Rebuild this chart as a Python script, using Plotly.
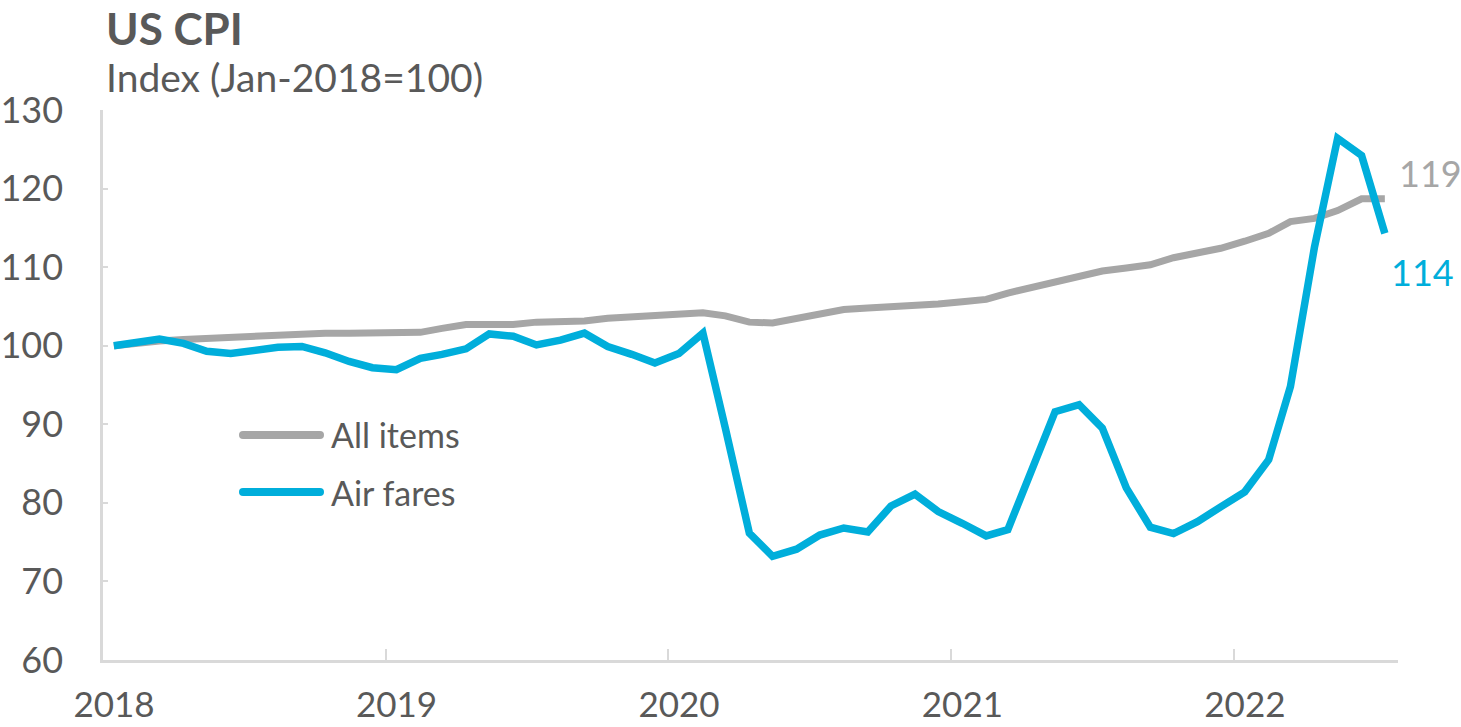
import plotly.graph_objects as go

# Monthly observations, Jan 2018 - Jul 2022 (plotted mid-month)
years = [2018, 2019, 2020, 2021, 2022]
n_months = 55
months = [f"{2018 + i // 12}-{i % 12 + 1:02d}-15" for i in range(n_months)]

all_items = [
    100.0, 100.4, 100.6, 100.8, 100.95, 101.1, 101.2, 101.3, 101.45, 101.6, 101.6, 101.6,
    101.6, 101.7, 102.2, 102.7, 102.7, 102.7, 103.0, 103.05, 103.15, 103.5, 103.65, 103.85,
    104.0, 104.2, 103.8, 103.0, 102.9, 103.5, 104.1, 104.6, 104.8, 104.9, 105.1, 105.3,
    105.6, 105.9, 106.7, 107.4, 108.1, 109.0, 109.5, 109.9, 110.3, 111.2, 111.8, 112.4,
    113.3, 114.3, 115.8, 116.2, 117.2, 118.7, 118.7,
]
air_fares = [
    100.0, 100.4, 100.85, 100.3, 99.3, 99.0, 99.4, 99.8, 99.9, 99.1, 98.0, 97.2,
    96.95, 98.4, 98.9, 99.6, 101.5, 101.2, 100.1, 100.7, 101.6, 99.9, 98.9, 97.8,
    99.0, 101.6, 89.5, 76.15, 73.2, 74.1, 75.9, 76.8, 76.3, 79.6, 81.1, 78.9,
    77.4, 75.8, 76.6, 84.2, 91.6, 92.5, 89.5, 81.9, 76.9, 76.1, 77.6, 79.5,
    81.4, 85.5, 94.8, 112.5, 126.4, 124.2, 114.3,
]

GRAY = "#A6A6A6"
BLUE = "#00AEDB"
TEXT = "#595959"
AXIS = "#D9D9D9"
FONT = "Lato, 'Open Sans', sans-serif"

# plot-area geometry in pixels
L, R, T, B = 103, 1398, 110, 660
W, H = R - L, B - T


def px_x(x):
    return (x - L) / W


def px_y(y):
    return (B - y) / H


fig = go.Figure()
fig.add_trace(go.Scatter(x=months, y=all_items, mode="lines", name="All items",
                         line=dict(color=GRAY, width=7), showlegend=False))
fig.add_trace(go.Scatter(x=months, y=air_fares, mode="lines", name="Air fares",
                         line=dict(color=BLUE, width=7.5), showlegend=False))

# End-of-series value labels
fig.add_annotation(x=months[-1], y=all_items[-1], text=f"{round(all_items[-1])}",
                   showarrow=False, xanchor="left", yanchor="middle",
                   xshift=12, yshift=26, font=dict(size=36, color=GRAY, family=FONT))
fig.add_annotation(x=months[-1], y=air_fares[-1], text=f"{round(air_fares[-1])}",
                   showarrow=False, xanchor="left", yanchor="middle",
                   xshift=4, yshift=-39, font=dict(size=36, color=BLUE, family=FONT))

# Title and subtitle
fig.add_annotation(xref="paper", yref="paper", x=px_x(104), y=px_y(28),
                   xanchor="left", yanchor="middle", text="<b>US CPI</b>", showarrow=False,
                   font=dict(size=44, color=TEXT, family=FONT))
fig.add_annotation(xref="paper", yref="paper", x=px_x(104), y=px_y(77),
                   xanchor="left", yanchor="middle", text="Index (Jan-2018=100)",
                   showarrow=False, font=dict(size=39, color=TEXT, family=FONT))

# Hand-drawn legend inside the plot area
legend_items = [("All items", GRAY, 435), ("Air fares", BLUE, 492)]
for label, color, ypx in legend_items:
    fig.add_shape(type="line", xref="paper", yref="paper",
                  x0=px_x(243), x1=px_x(320), y0=px_y(ypx), y1=px_y(ypx),
                  line=dict(color=color, width=8))
    for cx in (243, 320):
        fig.add_shape(type="circle", xref="paper", yref="paper",
                      x0=px_x(cx - 4), x1=px_x(cx + 4),
                      y0=px_y(ypx + 4), y1=px_y(ypx - 4),
                      line=dict(width=0), fillcolor=color)
    fig.add_annotation(xref="paper", yref="paper", x=px_x(329), y=px_y(ypx),
                       xanchor="left", yanchor="middle", text=label, showarrow=False,
                       font=dict(size=34, color=TEXT, family=FONT))

fig.update_layout(
    width=1461, height=727,
    margin=dict(l=L, r=1461 - R, t=T, b=727 - B),
    paper_bgcolor="white", plot_bgcolor="white",
    font=dict(family=FONT, color=TEXT, size=36),
    xaxis=dict(
        type="date", range=["2018-01-01", "2022-08-01"], automargin=False,
        tickvals=[f"{y}-01-01" for y in years], ticktext=[str(y) for y in years],
        ticks="inside", ticklen=11, tickwidth=2, tickcolor=AXIS,
        showline=True, linecolor=AXIS, linewidth=2.5, showgrid=False, zeroline=False,
        tickfont=dict(size=35, color=TEXT), ticklabelstandoff=12, ticklabelshift=11,
    ),
    yaxis=dict(
        range=[60, 130], dtick=10, tick0=60, automargin=False,
        ticks="inside", ticklen=5, tickwidth=2, tickcolor=AXIS,
        showline=True, linecolor=AXIS, linewidth=2.5, showgrid=False, zeroline=False,
        tickfont=dict(size=36, color=TEXT), ticklabelstandoff=30,
    ),
)

fig.write_html("out.html")
